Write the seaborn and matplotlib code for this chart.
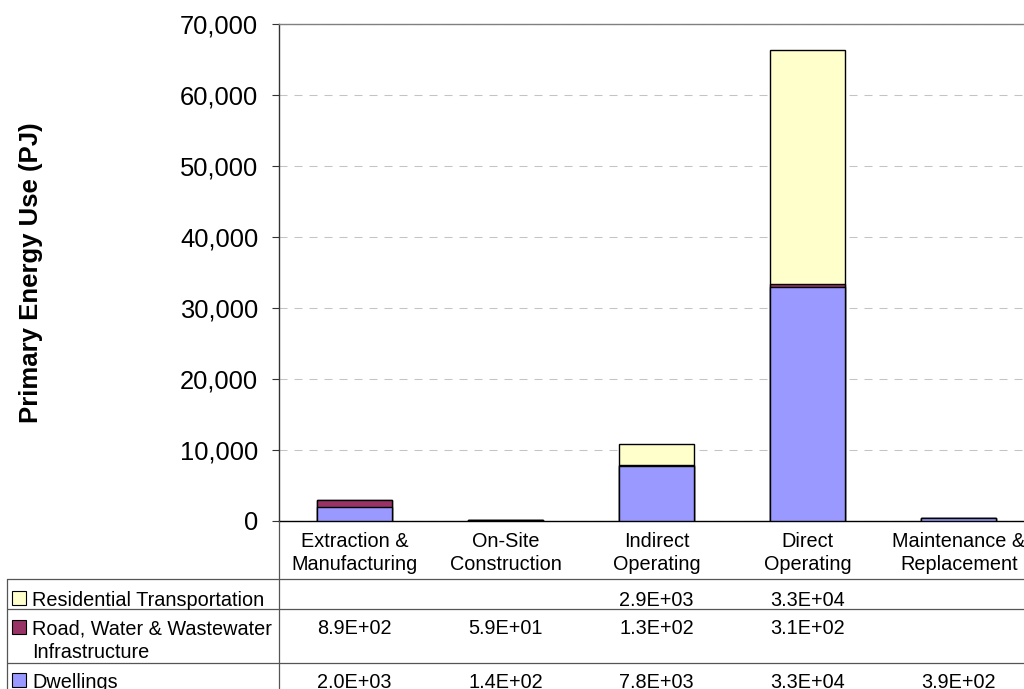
import numpy as np
import pandas as pd
import matplotlib
matplotlib.use("Agg")
import matplotlib.pyplot as plt
from matplotlib.lines import Line2D
from matplotlib.patches import Rectangle
from matplotlib.ticker import FuncFormatter
from matplotlib.transforms import blended_transform_factory
import seaborn as sns

# ---- data -------------------------------------------------------------
categories = [
    "Extraction &\nManufacturing",
    "On-Site\nConstruction",
    "Indirect\nOperating",
    "Direct\nOperating",
    "Maintenance &\nReplacement",
]
series_names = [
    "Residential Transportation",
    "Road, Water & Wastewater\nInfrastructure",
    "Dwellings",
]
dwellings = [2.0e3, 1.4e2, 7.8e3, 3.3e4, 3.9e2]
infrastructure = [8.9e2, 5.9e1, 1.3e2, 3.1e2, np.nan]
transportation = [np.nan, np.nan, 2.9e3, 3.3e4, np.nan]
series_colors = ["#FFFFCC", "#993366", "#9999FF"]
y_ticks = [0, 10000, 20000, 30000, 40000, 50000, 60000, 70000]

# ---- style --------------------------------------------------------------
sns.set_style("white")
plt.rcParams["font.family"] = ["Liberation Sans", "DejaVu Sans"]
plt.rcParams["text.color"] = "black"
plt.rcParams["axes.labelcolor"] = "black"
plt.rcParams["xtick.color"] = "black"
plt.rcParams["ytick.color"] = "black"

W, H = 1024, 689
fig = plt.figure(figsize=(W / 100, H / 100), dpi=100)


def fx(px):
    return px / W


def fy(py):
    return 1 - py / H


ax = fig.add_axes([fx(279.2), fy(521), 755 / W, 497 / H])

# cumulative stack heights, drawn from the tallest down
d = np.nan_to_num(np.array(dwellings, dtype=float))
i_ = np.nan_to_num(np.array(infrastructure, dtype=float))
t = np.nan_to_num(np.array(transportation, dtype=float))
df = pd.DataFrame({
    "category": categories,
    "top": d + i_ + t,
    "middle": d + i_,
    "bottom": d,
})
for col, color in zip(["top", "middle", "bottom"], series_colors):
    sns.barplot(data=df, x="category", y=col, color=color, saturation=1,
                width=0.5, edgecolor="black", linewidth=1.0, ax=ax, zorder=3)

ax.set_xlim(-0.5, 4.5)
ax.set_ylim(0, 70000)
ax.set_yticks(y_ticks)
ax.yaxis.set_major_formatter(FuncFormatter(lambda v, p: f"{v:,.0f}"))
ax.set_xlabel("")
ax.set_ylabel("Primary Energy Use (PJ)", fontsize=18.5, fontweight="bold",
              color="black")
ax.yaxis.set_label_coords(-0.313, 0.5)

ax.set_axisbelow(True)
ax.yaxis.grid(True, color="#C4C4C4", linewidth=0.75, linestyle=(0, (7.7, 6.7)))
ax.xaxis.grid(False)

ax.tick_params(axis="y", direction="out", length=5, width=0.8, color="#333333",
               labelcolor="black", pad=10, labelsize=18.4, left=True)
ax.tick_params(axis="x", length=0, pad=8, labelsize=14.3, labelcolor="black")
for lbl in ax.get_xticklabels():
    lbl.set_linespacing(1.25)

ax.spines["right"].set_visible(False)
ax.spines["top"].set_color("#808080")
ax.spines["top"].set_linewidth(1.0)
ax.spines["left"].set_color("#333333")
ax.spines["left"].set_linewidth(1.0)
ax.spines["bottom"].set_color("black")
ax.spines["bottom"].set_linewidth(1.0)

# ---- data table below the axis -----------------------------------------
line_color = "#555555"
for yy in (579, 609, 663):
    fig.add_artist(Line2D([fx(7), fx(W + 20)], [fy(yy), fy(yy)],
                          transform=fig.transFigure, color=line_color, lw=0.9))
fig.add_artist(Line2D([fx(7), fx(7)], [fy(579), fy(H + 5)],
                      transform=fig.transFigure, color=line_color, lw=0.9))
fig.add_artist(Line2D([fx(279.2), fx(279.2)], [fy(521), fy(H + 5)],
                      transform=fig.transFigure, color=line_color, lw=0.9))

row_values = [transportation, infrastructure, dwellings]
row_baselines = [605.5, 634.5, 687.5]
cell_trans = blended_transform_factory(ax.transData, fig.transFigure)
fs_table = 14.3
for name, color, vals, base in zip(series_names, series_colors,
                                   row_values, row_baselines):
    first, *rest = name.split("\n")
    fig.text(fx(32), fy(base), first, fontsize=fs_table, va="baseline",
             ha="left", color="black")
    for k, extra in enumerate(rest):
        fig.text(fx(32), fy(base + 23.5 * (k + 1)), extra,
                 fontsize=fs_table, va="baseline", ha="left", color="black")
    fig.add_artist(Rectangle((fx(12), fy(base - 0.5)), 14 / W, 14 / H,
                             transform=fig.transFigure, facecolor=color,
                             edgecolor="black", lw=0.8))
    for j, v in enumerate(vals):
        if not np.isnan(v):
            ax.text(j, fy(base), f"{v:.1E}", transform=cell_trans,
                    ha="center", va="baseline", fontsize=fs_table,
                    color="black", clip_on=False)

fig.savefig("out.png", dpi=100)
